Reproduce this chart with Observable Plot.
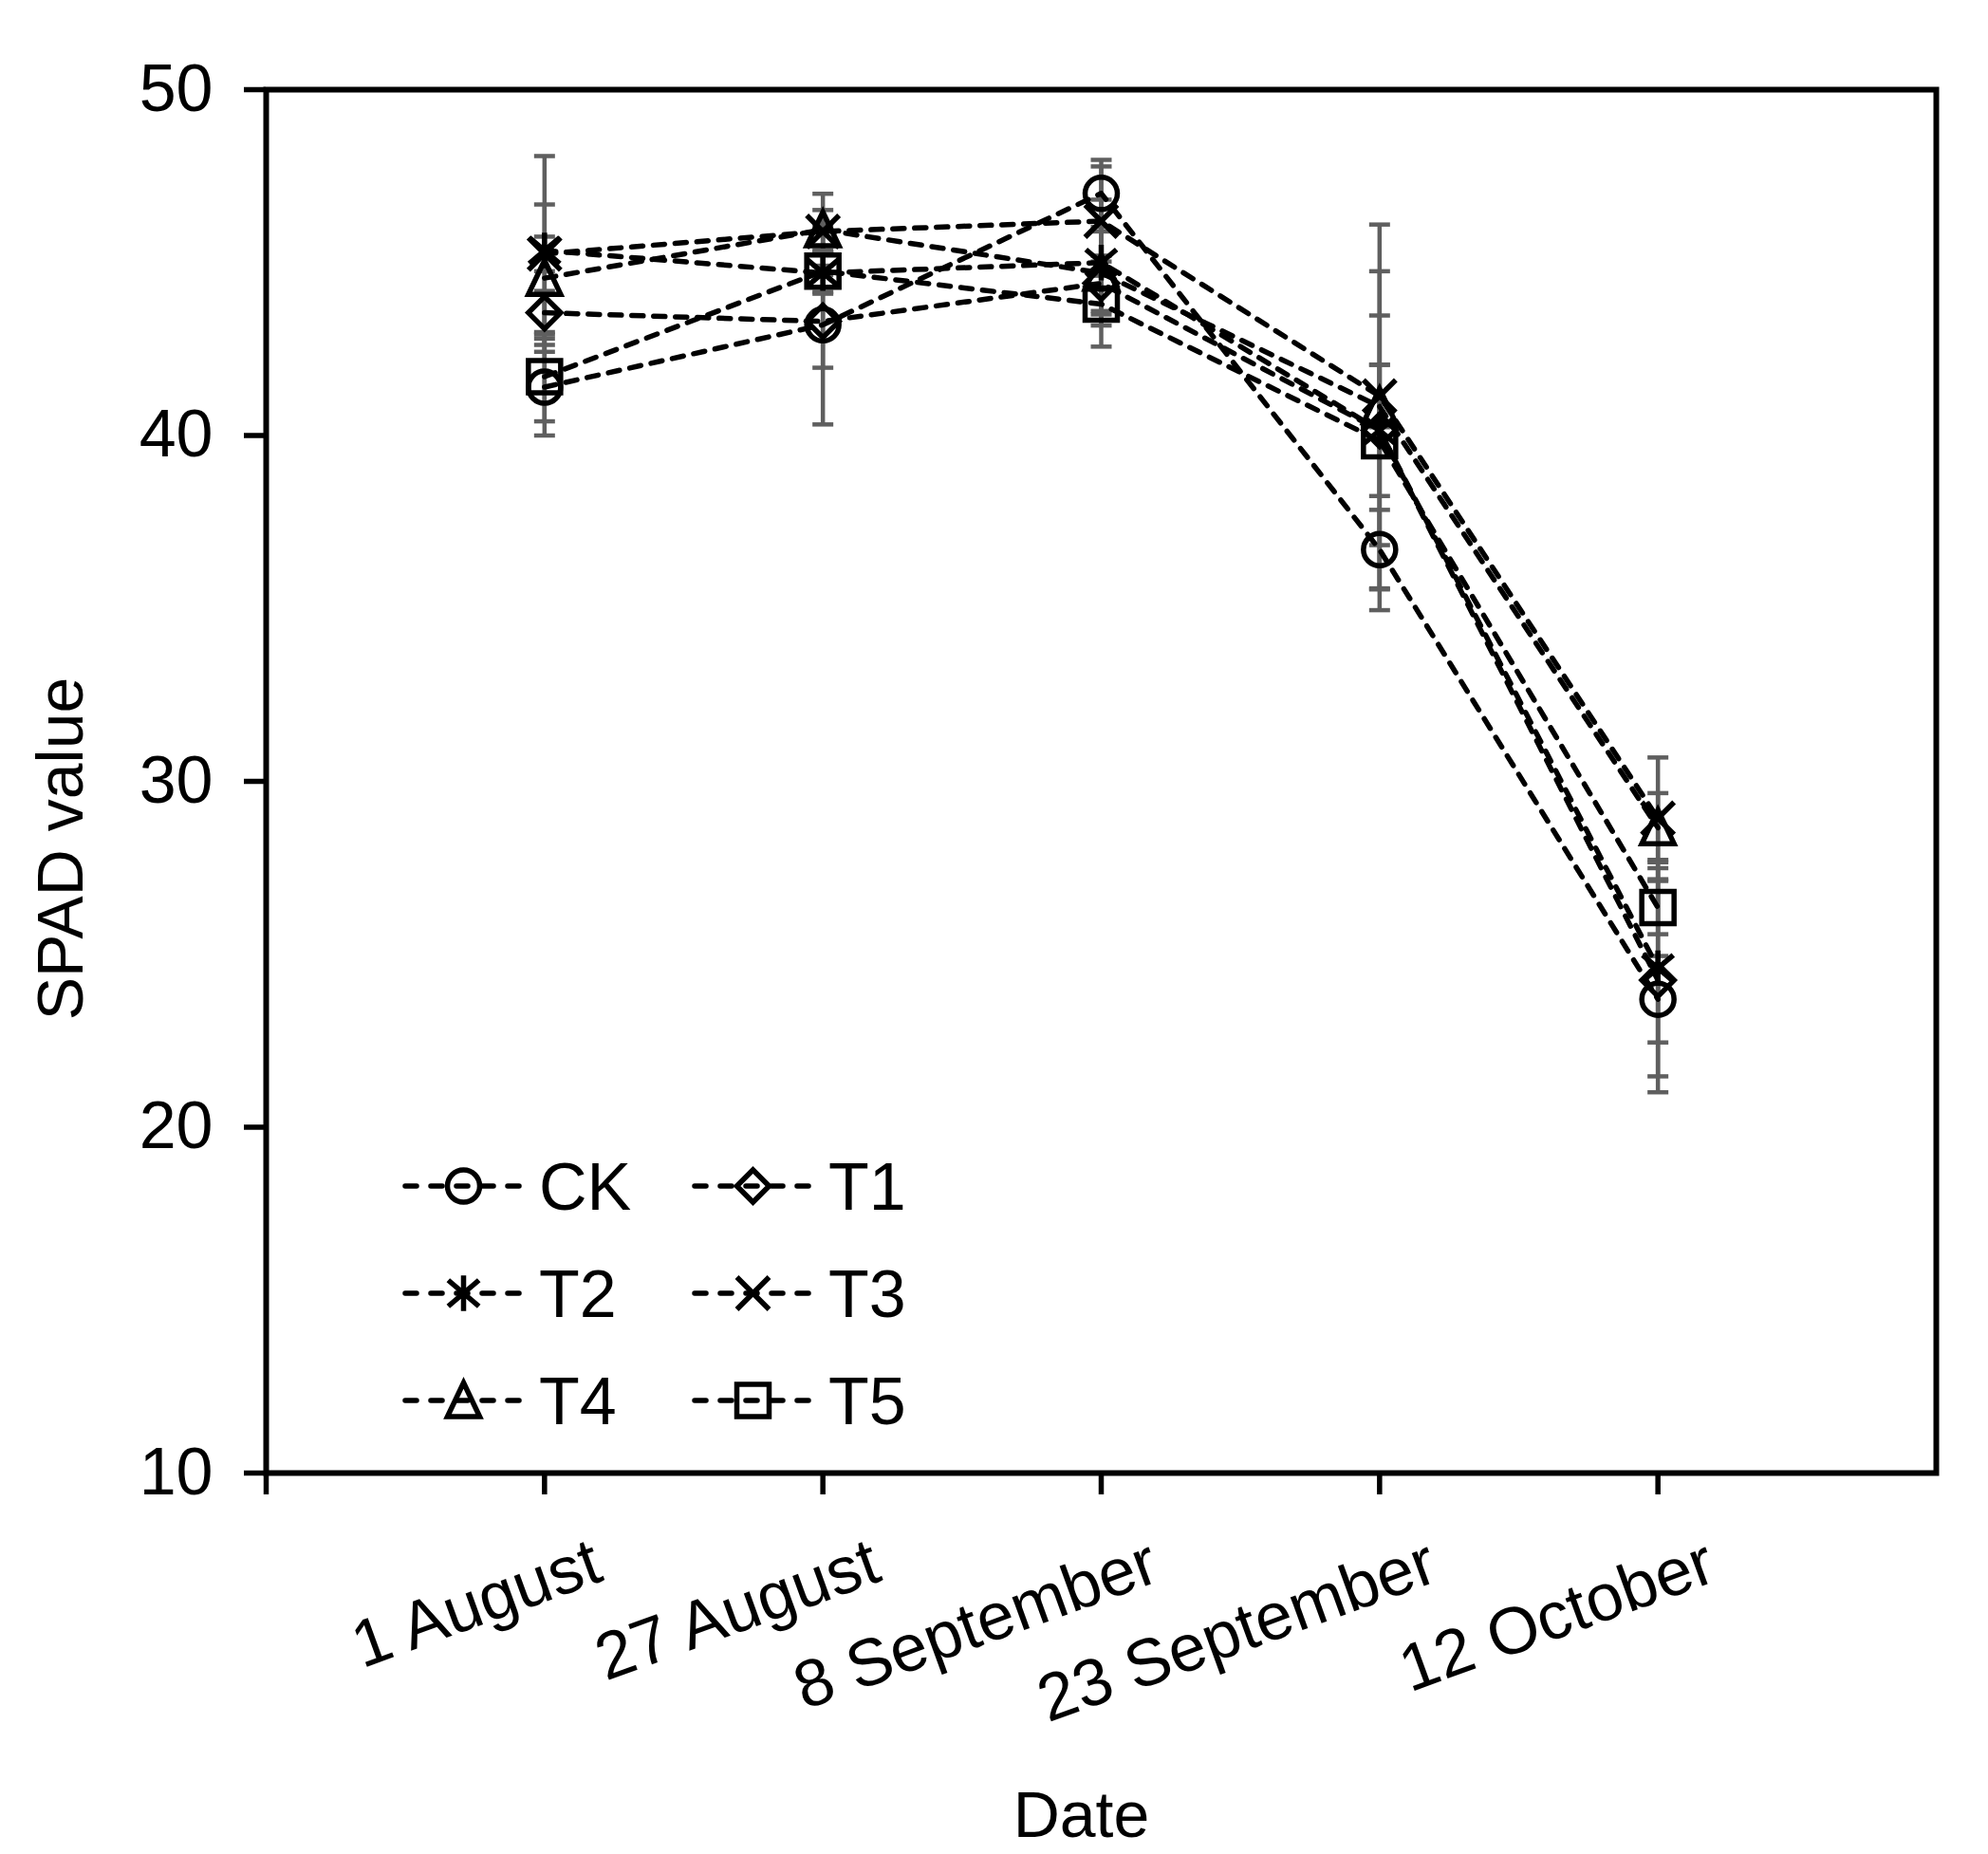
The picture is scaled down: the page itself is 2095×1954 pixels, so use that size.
<!DOCTYPE html>
<html>
<head>
<meta charset="utf-8">
<script src="https://cdn.jsdelivr.net/npm/d3@7"></script>
<script src="https://cdn.jsdelivr.net/npm/@observablehq/plot@0.6"></script>
<style>
html,body{margin:0;padding:0;background:#fff;overflow:hidden}
</style>
</head>
<body>
<div id="chart"></div>
<script>
// ---------- data ----------
const dates = ["1 August", "27 August", "8 September", "23 September", "12 October"];
const seriesNames = ["CK", "T1", "T2", "T3", "T4", "T5"];

const CK = [41.4, 43.2, 47.0, 36.7, 23.7];
const T1 = [43.55, 43.3, 44.4, 40.15, 24.25];
const T2 = [45.35, 44.7, 45.0, 40.15, 24.6];
const T3 = [45.25, 45.9, 46.2, 41.14, 28.93];
const T4 = [44.55, 45.95, 44.7, 40.84, 28.66];
const T5 = [41.7, 44.75, 43.8, 39.85, 26.35];

const CK_sd = [1.4, 2.88, 0.97, 1.15, 1.25];
const T1_sd = [0.63, 1.34, 0.8, 1.9, 3.24];
const T2_sd = [2.73, 0.6, 1.82, 3.32, 3.13];
const T3_sd = [0.5, 0.62, 1.58, 0.9, 1.76];
const T4_sd = [2.13, 1.04, 1.2, 5.26, 1.0];
const T5_sd = [1.29, 0.6, 1.23, 4.9, 0.77];

const yTicks = [10, 20, 30, 40, 50];

// ---------- table ----------
const means = [CK, T1, T2, T3, T4, T5];
const sds = [CK_sd, T1_sd, T2_sd, T3_sd, T4_sd, T5_sd];
const rows = [];
seriesNames.forEach((s, k) => dates.forEach((d, i) => rows.push({
  series: s, date: d, idx: i + 1, value: means[k][i], sd: sds[k][i]
})));

// ---------- custom marker symbols (Excel-like, unfilled) ----------
const rOf = size => Math.sqrt(size / Math.PI);
const symCircle = {draw(c, size) { const r = rOf(size); c.moveTo(r, 0); c.arc(0, 0, r, 0, 2 * Math.PI); c.closePath(); }};
const symDiamond = {draw(c, size) { const r = rOf(size); c.moveTo(0, -r); c.lineTo(r, 0); c.lineTo(0, r); c.lineTo(-r, 0); c.closePath(); }};
const symAsterisk = {draw(c, size) { const r = rOf(size); const a = r * 0.95;
  c.moveTo(-a, -a * 0.85); c.lineTo(a, a * 0.85); c.moveTo(a, -a * 0.85); c.lineTo(-a, a * 0.85);
  c.moveTo(0, -r * 1.1); c.lineTo(0, r * 1.1); }};
const symTimes = {draw(c, size) { const r = rOf(size); c.moveTo(-r, -r); c.lineTo(r, r); c.moveTo(r, -r); c.lineTo(-r, r); }};
const symTriangle = {draw(c, size) { const r = rOf(size); c.moveTo(0, -r * 1.1); c.lineTo(r, r); c.lineTo(-r, r); c.closePath(); }};
const symSquare = {draw(c, size) { const r = rOf(size); c.moveTo(-r, -r); c.lineTo(r, -r); c.lineTo(r, r); c.lineTo(-r, r); c.closePath(); }};
const symCap = {draw(c, size) { const r = rOf(size); c.moveTo(-r, 0); c.lineTo(r, 0); }};
const symbols = [symCircle, symDiamond, symAsterisk, symTimes, symTriangle, symSquare];

const FONT = "'Liberation Sans', Arial, Helvetica, sans-serif";
const ERR = "#5f5f5f";
const W = 2095, H = 1954;
const mL = 280, mR = 55, mT = 94, mB = 402;
const TICKFONT = 70;

const marks = [
  // error bars
  Plot.ruleX(rows, {x: "idx", y1: d => d.value - d.sd, y2: d => d.value + d.sd, stroke: ERR, strokeWidth: 4.5}),
  Plot.dot(rows, {x: "idx", y: d => d.value + d.sd, symbol: symCap, r: 11, stroke: ERR, strokeWidth: 4.5, fill: "none"}),
  Plot.dot(rows, {x: "idx", y: d => d.value - d.sd, symbol: symCap, r: 11, stroke: ERR, strokeWidth: 4.5, fill: "none"}),
  // dashed lines
  Plot.line(rows, {x: "idx", y: "value", z: "series", stroke: "black", strokeWidth: 5.5,
    strokeDasharray: "12,11", strokeLinecap: "round"}),
  // markers
  ...seriesNames.map((s, k) => Plot.dot(rows.filter(d => d.series === s), {
    x: "idx", y: "value", symbol: symbols[k], r: 17, stroke: "black", strokeWidth: 5.5, fill: "none",
    strokeLinejoin: "miter"
  })),
  // axes
  Plot.axisY({ticks: yTicks, tickSize: 23, tickPadding: 33, strokeWidth: 5.5, fontSize: TICKFONT, label: null}),
  Plot.axisX({ticks: [0, 1, 2, 3, 4, 5], tickSize: 23, strokeWidth: 5.5, tickFormat: () => "", label: null}),
  Plot.frame({stroke: "black", strokeWidth: 6}),
  // rotated category labels
  Plot.text(dates, {x: (d, i) => i + 1, text: d => d, frameAnchor: "bottom", textAnchor: "end",
    lineAnchor: "top", rotate: -20, dx: 47, dy: 66, fontSize: TICKFONT, fill: "black"}),
  // axis titles
  Plot.text(["Date"], {frameAnchor: "bottom", text: d => d, textAnchor: "middle", lineAnchor: "middle",
    dx: -21, dy: 362, fontSize: 68, fill: "black"}),
  Plot.text(["SPAD value"], {frameAnchor: "left", text: d => d, textAnchor: "middle", lineAnchor: "middle",
    rotate: -90, dx: -215, dy: 71, fontSize: 68, fill: "black"})
];

const chart = Plot.plot({
  width: W, height: H,
  marginLeft: mL, marginRight: mR, marginTop: mT, marginBottom: mB,
  x: {domain: [0, 6], axis: null},
  y: {domain: [10, 50], axis: null},
  style: {fontFamily: FONT, fontSize: "66px", color: "black", background: "white"},
  marks
});
document.getElementById("chart").appendChild(chart);

// ---------- legend (inside plot, bottom-left) ----------
const legendX = [425, 730];
const legendY = [1250, 1363, 1476];
const legendLen = 127;
const svg = d3.select(chart);
const lg = svg.append("g").attr("font-family", FONT).attr("font-size", TICKFONT)
  .attr("fill", "black").attr("text-anchor", "start");
seriesNames.forEach((s, k) => {
  const x0 = legendX[k % 2], y0 = legendY[Math.floor(k / 2)];
  lg.append("line").attr("x1", x0 + 2).attr("x2", x0 + legendLen).attr("y1", y0).attr("y2", y0)
    .attr("stroke", "black").attr("stroke-width", 5.5).attr("stroke-dasharray", "12,15")
    .attr("stroke-linecap", "round");
  lg.append("path").attr("d", d3.symbol(symbols[k], Math.PI * 17 * 17)())
    .attr("transform", `translate(${x0 + legendLen / 2},${y0})`)
    .attr("fill", "none").attr("stroke", "black").attr("stroke-width", 5.5);
  lg.append("text").attr("x", x0 + legendLen + 16).attr("y", y0).attr("dy", "0.36em")
    .attr("text-anchor", "start").text(s);
});
</script>
</body>
</html>
